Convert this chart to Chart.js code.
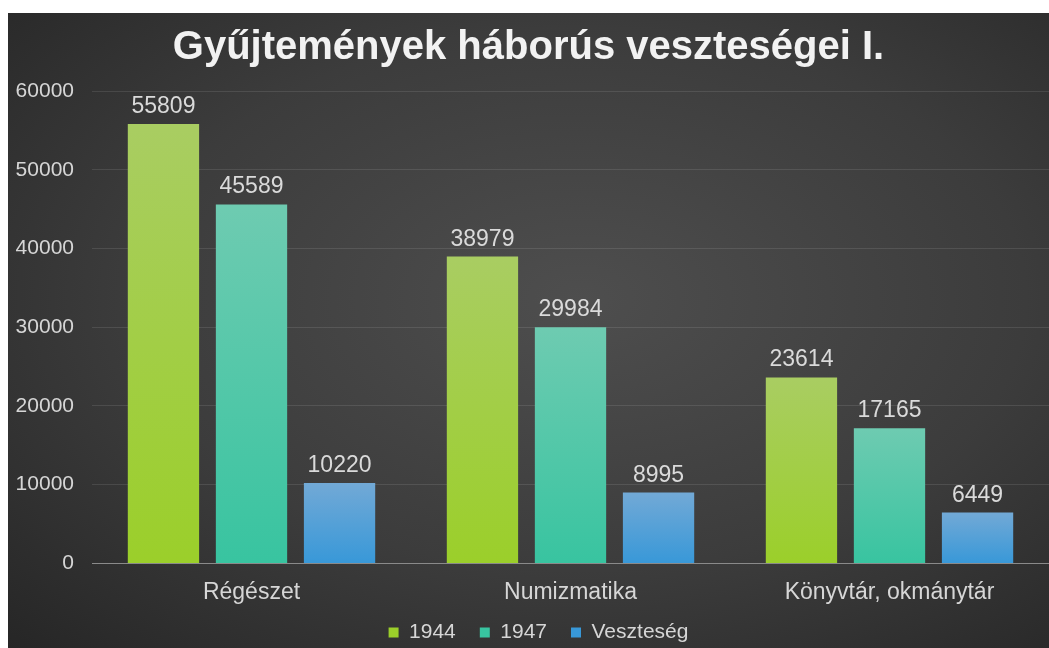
<!DOCTYPE html>
<html>
<head>
<meta charset="utf-8">
<script src="https://cdn.jsdelivr.net/npm/chart.js@4"></script>
<style>
  html, body { margin: 0; padding: 0; background: #fff; }
  #wrap {
    position: absolute; left: 8px; top: 13px; width: 1041px; height: 635px;
    background: radial-gradient(ellipse at 55% 45%, #4e4e4e 0%, #3c3c3c 55%, #262626 100%);
  }
</style>
</head>
<body>
<div id="wrap"><canvas id="barChart"></canvas></div>
<script>
// Data
const categories = ["Régészet", "Numizmatika", "Könyvtár, okmánytár"];
const seriesNames = ["1944", "1947", "Veszteség"];
const values1944 = [55809, 38979, 23614];
const values1947 = [45589, 29984, 17165];
const valuesLoss = [10220, 8995, 6449];
const yTicks = [0, 10000, 20000, 30000, 40000, 50000, 60000];

// top / bottom colours of each series
const topColors = ["#a9cd62", "#6ecbb1", "#72a9d6"];
const bottomColors = ["#9bcf2a", "#38c4a0", "#3898d8"];
const FONT = "'Liberation Sans', Arial, sans-serif";

function barGradient(i) {
  return (ctx) => {
    const chart = ctx.chart;
    if (!chart.chartArea || ctx.raw === undefined) return bottomColors[i];
    const yScale = chart.scales.y;
    const top = yScale.getPixelForValue(ctx.raw);
    const bottom = yScale.getPixelForValue(0);
    const g = chart.ctx.createLinearGradient(0, top, 0, bottom);
    g.addColorStop(0, topColors[i]);
    g.addColorStop(1, bottomColors[i]);
    return g;
  };
}

// draws the value above every bar
const valueLabels = {
  id: "valueLabels",
  afterDatasetsDraw(chart) {
    const c = chart.ctx;
    c.save();
    c.font = "23px " + FONT;
    c.fillStyle = "#dadada";
    c.textAlign = "center";
    c.textBaseline = "alphabetic";
    chart.data.datasets.forEach((ds, i) => {
      chart.getDatasetMeta(i).data.forEach((bar, j) => {
        c.fillText(ds.data[j], bar.x, bar.y - 11);
      });
    });
    c.restore();
  }
};

// keep the legend short but with wide gaps between items
const legendTweak = {
  id: "legendTweak",
  afterInit(chart) {
    const legend = chart.legend;
    const fit = legend.fit;
    legend.fit = function () { fit.call(this); this.height = 35; };
    const draw = legend.draw;
    legend.draw = function () {
      const { top, left, right } = this;
      this.top = top - 15;
      this.left = left + 10;
      this.right = right + 10;
      draw.call(this);
      this.top = top;
      this.left = left;
      this.right = right;
    };
  }
};

const ctx = document.getElementById("barChart").getContext("2d");
new Chart(ctx, {
  type: "bar",
  data: {
    labels: categories,
    datasets: [values1944, values1947, valuesLoss].map((d, i) => ({
      label: seriesNames[i],
      data: d,
      backgroundColor: barGradient(i),
      borderWidth: 0,
      categoryPercentage: 0.828,
      barPercentage: 0.81
    }))
  },
  options: {
    responsive: true,
    maintainAspectRatio: false,
    animation: false,
    layout: { padding: 0 },
    plugins: {
      title: {
        display: true,
        text: "Gyűjtemények háborús veszteségei I.",
        color: "#f2f2f2",
        font: { family: FONT, size: 40, weight: "bold", lineHeight: 1.2 },
        padding: { top: 11, bottom: 19 }
      },
      legend: {
        position: "bottom",
        labels: {
          color: "#d6d6d6",
          boxWidth: 10,
          boxHeight: 10,
          padding: 24,
          font: { family: FONT, size: 21 },
          generateLabels: (chart) => seriesNames.map((n, i) => ({
            text: n,
            fillStyle: bottomColors[i],
            strokeStyle: bottomColors[i],
            lineWidth: 0,
            fontColor: "#d6d6d6",
            datasetIndex: i
          }))
        }
      },
      tooltip: { enabled: false }
    },
    scales: {
      x: {
        grid: { display: false },
        border: { color: "#8a8a8a", width: 1 },
        ticks: {
          color: "#d6d6d6",
          padding: 7,
          font: { family: FONT, size: 23 }
        }
      },
      y: {
        min: 0,
        max: 60000,
        afterFit: (axis) => { axis.width = 84; },
        afterBuildTicks: (axis) => { axis.ticks = yTicks.map(v => ({ value: v })); },
        grid: { color: "rgba(255,255,255,0.10)", drawTicks: false },
        border: { display: false },
        ticks: {
          color: "#d6d6d6",
          padding: 18,
          callback: (v) => String(v),
          font: { family: FONT, size: 21 }
        }
      }
    }
  },
  plugins: [valueLabels, legendTweak]
});
</script>
</body>
</html>
